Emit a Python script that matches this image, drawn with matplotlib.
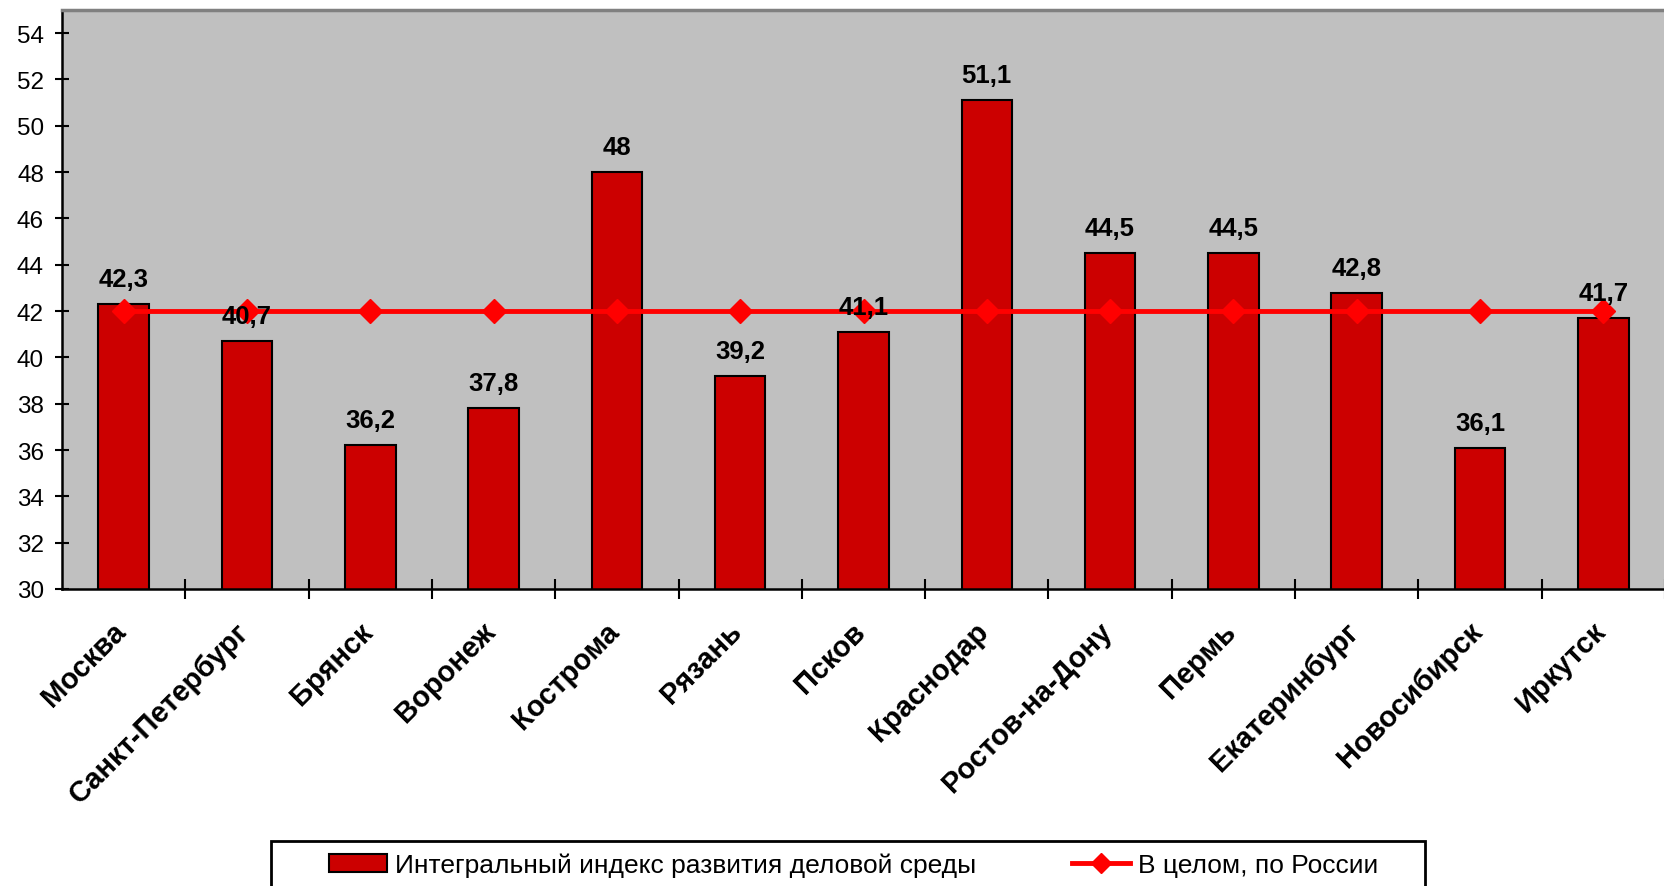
import matplotlib
matplotlib.use("Agg")
import matplotlib.pyplot as plt
from matplotlib.patches import Patch, Rectangle
from matplotlib.lines import Line2D
import numpy as np

plt.rcParams['font.family'] = ['Liberation Sans', 'DejaVu Sans']

categories = ["Москва", "Санкт-Петербург", "Брянск", "Воронеж", "Кострома", "Рязань",
              "Псков", "Краснодар", "Ростов-на-Дону", "Пермь", "Екатеринбург",
              "Новосибирск", "Иркутск"]
values = [42.3, 40.7, 36.2, 37.8, 48, 39.2, 41.1, 51.1, 44.5, 44.5, 42.8, 36.1, 41.7]
labels = ["42,3", "40,7", "36,2", "37,8", "48", "39,2", "41,1", "51,1", "44,5", "44,5",
          "42,8", "36,1", "41,7"]
russia = [42.0] * 13
series_names = ["Интегральный индекс развития деловой среды", "В целом, по России"]
yticks = list(range(30, 55, 2))

W, H = 1665, 887
fig = plt.figure(figsize=(W/100, H/100), dpi=100)
ax = fig.add_axes([62/W, 1-590/H, 1-62/W, (590-11)/H])
ax.set_facecolor('#C0C0C0')

x = np.arange(len(categories))
ax.bar(x, values, width=0.41, color='#CC0000', edgecolor='black', linewidth=1.5, zorder=2)
ax.plot(x, russia, color='#FF0000', linewidth=3.5, marker='D', markersize=12,
        markeredgecolor='#FF0000', zorder=3)
for xi, v, lab in zip(x, values, labels):
    ax.annotate(lab, (xi, v), xytext=(0, 18), textcoords='offset points',
                ha='center', va='center', fontsize=18.5, fontweight='bold', zorder=4)

ax.set_xlim(-0.5, len(categories) - 0.5)
ax.set_ylim(30, 55)
ax.set_yticks(yticks)
ax.set_yticklabels([str(t) for t in yticks], fontsize=17.5)
ax.tick_params(axis='y', direction='inout', length=10, width=1.5, pad=8)

ax.set_xticks(x + 0.5)
ax.set_xticklabels([])
ax.tick_params(axis='x', direction='inout', length=14, width=1.5)
for xi, c in zip(x, categories):
    ax.text(xi - 0.1, 28.8, c, rotation=45, rotation_mode='anchor', ha='right', va='top',
            fontsize=21, fontweight='bold', clip_on=False)

ax.spines['left'].set_linewidth(1.8)
ax.spines['bottom'].set_linewidth(1.8)
ax.spines['top'].set_color('#808080')
ax.spines['top'].set_linewidth(2.5)
ax.spines['right'].set_visible(False)

# legend frame
fig.patches.append(Rectangle((271/W, -0.05), (1425-271)/W, 0.05 + 1-842/H,
                             transform=fig.transFigure, facecolor='white',
                             edgecolor='black', linewidth=2, zorder=0))

h1 = Patch(facecolor='#CC0000', edgecolor='black', linewidth=1.5)
h2 = Line2D([0], [0], color='#FF0000', linewidth=3.5, marker='D', markersize=10)
common = dict(frameon=False, fontsize=19, handlelength=2.2, handletextpad=0.3,
              borderpad=0, borderaxespad=0, loc='center left')
fig.legend([h1], [series_names[0]], bbox_to_anchor=(329/W, 1-866/H), **common)
fig.legend([h2], [series_names[1]], bbox_to_anchor=(1072/W, 1-866/H), **common)

fig.savefig('out.png', dpi=100)
